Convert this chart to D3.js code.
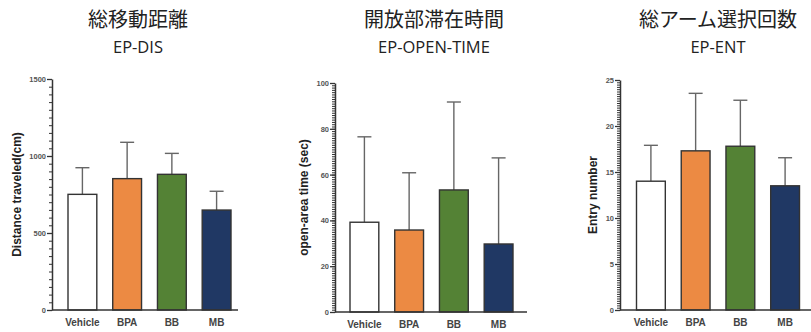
<!DOCTYPE html>
<html>
<head>
<meta charset="utf-8">
<script src="https://cdn.jsdelivr.net/npm/d3@7/dist/d3.min.js"></script>
<style>
  html, body { margin: 0; padding: 0; background: #fff; }
  svg { display: block; }
</style>
</head>
<body>
<svg id="chart" width="811" height="332"></svg>
<script>
// Groups shared by all three panels
const categories = ["Vehicle", "BPA", "BB", "MB"];
const barColors = ["#ffffff", "#ec8a43", "#548235", "#203864"];

// Total distance travelled (cm): mean and mean + SD
const disMean = [751, 853, 881, 649];
const disUpper = [924, 1089, 1017, 771];
const disTicks = [0, 500, 1000, 1500];

// Time spent in open area (sec)
const openMean = [39.2, 35.8, 53.3, 29.7];
const openUpper = [76.5, 60.8, 91.7, 67.3];
const openTicks = [0, 20, 40, 60, 80, 100];

// Number of arm entries
const entMean = [14.0, 17.3, 17.8, 13.5];
const entUpper = [17.9, 23.55, 22.8, 16.55];
const entTicks = [0, 5, 10, 15, 20, 25];

const panels = [
  { title: "総移動距離", sub: "EP-DIS", yLabel: "Distance traveled(cm)",
    mean: disMean, upper: disUpper, ticks: disTicks, max: 1500, minorStep: 50,
    cx: 138, axisX: 52, axisEnd: 238, bars: [68, 231], y: [310, 79], labelX: 17 },
  { title: "開放部滞在時間", sub: "EP-OPEN-TIME", yLabel: "open-area time (sec)",
    mean: openMean, upper: openUpper, ticks: openTicks, max: 100, minorStep: 1,
    cx: 434, axisX: 335, axisEnd: 527, bars: [350, 513], y: [312, 83], labelX: 304 },
  { title: "総アーム選択回数", sub: "EP-ENT", yLabel: "Entry number",
    mean: entMean, upper: entUpper, ticks: entTicks, max: 25, minorStep: 0.25,
    cx: 718, axisX: 620, axisEnd: 811, bars: [636.5, 799.5], y: [310, 80], labelX: 593 }
];

const svg = d3.select("#chart");
const ink = "#333";

panels.forEach(p => {
  const g = svg.append("g");

  // Titles
  g.append("text")
    .attr("x", p.cx).attr("y", 27)
    .attr("text-anchor", "middle")
    .attr("font-family", "'Noto Sans CJK JP', sans-serif")
    .attr("font-size", 20).attr("fill", "#222")
    .text(p.title);
  g.append("text")
    .attr("x", p.cx).attr("y", 53)
    .attr("text-anchor", "middle")
    .attr("font-family", "'Open Sans', sans-serif")
    .attr("font-size", 16.5).attr("fill", "#222")
    .text(p.sub);

  const x = d3.scaleBand().domain(categories).range(p.bars)
    .paddingInner(0.356).paddingOuter(0);
  const y = d3.scaleLinear().domain([0, p.max]).range(p.y);

  // Error bars (upper only), drawn behind the bars
  const err = g.append("g").attr("stroke", "#666").attr("stroke-width", 1.4).attr("fill", "none");
  categories.forEach((c, i) => {
    const cxBar = x(c) + x.bandwidth() / 2;
    err.append("line").attr("x1", cxBar).attr("x2", cxBar)
      .attr("y1", y(p.mean[i])).attr("y2", y(p.upper[i]));
    err.append("line").attr("x1", cxBar - 7).attr("x2", cxBar + 7)
      .attr("y1", y(p.upper[i])).attr("y2", y(p.upper[i]));
  });

  // Bars
  g.append("g").selectAll("rect").data(categories).join("rect")
    .attr("x", d => x(d))
    .attr("y", (d, i) => y(p.mean[i]))
    .attr("width", x.bandwidth())
    .attr("height", (d, i) => y(0) - y(p.mean[i]))
    .attr("fill", (d, i) => barColors[i])
    .attr("stroke", ink).attr("stroke-width", 1.4);

  // Minor ticks
  const minor = d3.range(0, p.max + p.minorStep / 2, p.minorStep);
  g.append("g").attr("transform", `translate(${p.axisX},0)`)
    .call(d3.axisLeft(y).tickValues(minor).tickSize(3).tickFormat(""))
    .call(s => s.select(".domain").remove())
    .call(s => s.selectAll("line").attr("stroke", ink).attr("stroke-width", 1));

  // Major ticks and labels
  const yAxis = g.append("g").attr("transform", `translate(${p.axisX},0)`)
    .call(d3.axisLeft(y).tickValues(p.ticks).tickSize(5).tickPadding(1)
      .tickSizeOuter(0).tickFormat(d3.format("d")));
  yAxis.select(".domain").attr("stroke", ink).attr("stroke-width", 1.5);
  yAxis.selectAll("line").attr("stroke", ink).attr("stroke-width", 1.3);
  yAxis.selectAll("text")
    .attr("font-family", "'Liberation Sans', Arial, sans-serif")
    .attr("font-size", 7.5).attr("font-weight", "bold").attr("fill", "#555");

  // Baseline
  g.append("line")
    .attr("x1", p.axisX).attr("x2", p.axisEnd)
    .attr("y1", y(0)).attr("y2", y(0))
    .attr("stroke", ink).attr("stroke-width", 1.5);

  // Category labels
  g.append("g").selectAll("text").data(categories).join("text")
    .attr("x", d => x(d) + x.bandwidth() / 2)
    .attr("y", y(0) + 16)
    .attr("text-anchor", "middle")
    .attr("font-family", "'Liberation Sans', Arial, sans-serif")
    .attr("font-size", 10).attr("font-weight", "bold").attr("fill", "#444")
    .text(d => d);

  // Y axis title
  const midY = (p.y[0] + p.y[1]) / 2;
  g.append("text")
    .attr("transform", `translate(${p.labelX + 4},${midY}) rotate(-90)`)
    .attr("text-anchor", "middle")
    .attr("font-family", "'Liberation Sans', Arial, sans-serif")
    .attr("font-size", 12).attr("font-weight", "bold").attr("fill", "#222")
    .text(p.yLabel);
});
</script>
</body>
</html>
